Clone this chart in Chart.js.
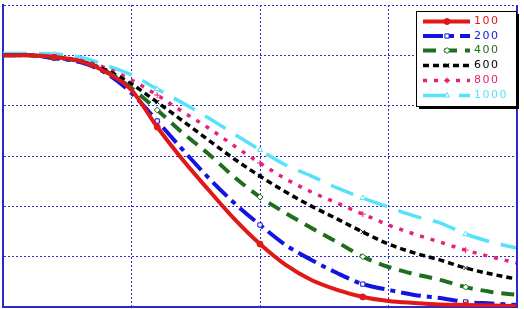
<!DOCTYPE html>
<html>
<head>
<meta charset="UTF-8">
<title>curves</title>
<script src="https://cdn.jsdelivr.net/npm/chart.js"></script>
<style>
  body { margin: 0; background: #fff; }
  #wrap { width: 524px; height: 309px; }
</style>
</head>
<body>
<div id="wrap"><canvas id="chart" width="524" height="309"></canvas></div>
<script>
// x positions (0..4) and the six curves
const xValues = [0, 0.2, 0.4, 0.6, 0.8, 1.0, 1.2, 1.4, 1.6, 1.8, 2.0, 2.2, 2.4, 2.6, 2.8, 3.0, 3.2, 3.4, 3.6, 3.8, 4.0];
const seriesNames = ['100', '200', '400', '600', '800', '1000'];
const s100  = [1.0, 1.0, 0.993, 0.977, 0.934, 0.862, 0.715, 0.584, 0.465, 0.350, 0.250, 0.167, 0.107, 0.068, 0.040, 0.024, 0.016, 0.010, 0.008, 0.006, 0.004];
const s200  = [1.0, 1.0, 0.989, 0.973, 0.930, 0.850, 0.739, 0.624, 0.513, 0.413, 0.326, 0.246, 0.187, 0.135, 0.091, 0.068, 0.048, 0.036, 0.020, 0.014, 0.008];
const s400  = [1.0, 1.0, 0.989, 0.977, 0.938, 0.870, 0.783, 0.691, 0.608, 0.516, 0.437, 0.373, 0.314, 0.258, 0.200, 0.159, 0.131, 0.108, 0.079, 0.060, 0.048];
const s600  = [1.0, 1.0, 0.989, 0.977, 0.942, 0.886, 0.814, 0.739, 0.663, 0.588, 0.520, 0.457, 0.401, 0.350, 0.298, 0.250, 0.215, 0.187, 0.155, 0.131, 0.111];
const s800  = [1.0, 1.0, 0.993, 0.981, 0.950, 0.902, 0.842, 0.775, 0.711, 0.640, 0.572, 0.509, 0.457, 0.413, 0.369, 0.326, 0.290, 0.258, 0.226, 0.199, 0.175];
const s1000 = [1.007, 1.007, 1.005, 0.993, 0.961, 0.922, 0.866, 0.810, 0.751, 0.687, 0.624, 0.564, 0.520, 0.473, 0.433, 0.397, 0.362, 0.334, 0.290, 0.258, 0.234];
const markerIdx = [2, 6, 10, 14, 18];

const gridBlue = '#2a2acc';

function pts(arr) {
  return arr.map((v, i) => ({ x: xValues[i], y: v }));
}
function radii(r) {
  return xValues.map((_, i) => markerIdx.includes(i) ? r : 0);
}

const styles = [
  { color: '#e01818', width: 4,   dash: [],             point: 'circle',   fill: '#e01818' },
  { color: '#1414e0', width: 4,   dash: [20, 6, 5, 6],  point: 'rect',     fill: '#ffffff' },
  { color: '#1e6e1e', width: 4,   dash: [13, 8],        point: 'rectRot',  fill: '#ffffff' },
  { color: '#000000', width: 3.5, dash: [6, 4],         point: 'crossRot', fill: '#ffffff' },
  { color: '#e8207a', width: 3.5, dash: [4, 7],         point: 'cross',    fill: '#ffffff' },
  { color: '#55e2fa', width: 3.5, dash: [24, 12],       point: 'triangle', fill: '#ffffff' }
];
const allData = [s100, s200, s400, s600, s800, s1000];

const datasets = allData.map((arr, k) => ({
  label: seriesNames[k],
  data: pts(arr),
  borderColor: styles[k].color,
  borderWidth: styles[k].width,
  borderDash: styles[k].dash,
  pointStyle: styles[k].point,
  pointRadius: radii(3),
  pointBorderColor: styles[k].color,
  pointBackgroundColor: styles[k].fill,
  pointBorderWidth: 1,
  cubicInterpolationMode: 'monotone',
  fill: false
}));

// boxed legend with line samples, like the original
const legendBox = {
  id: 'legendBox',
  afterDraw(chart) {
    const ctx = chart.ctx;
    const x0 = 416, y0 = 11, w = 100, h = 95;
    ctx.save();
    ctx.fillStyle = '#000';
    ctx.fillRect(x0 + 3, y0 + 3, w, h);
    ctx.fillStyle = '#fff';
    ctx.fillRect(x0, y0, w, h);
    ctx.strokeStyle = '#000';
    ctx.lineWidth = 1;
    ctx.strokeRect(x0 + 0.5, y0 + 0.5, w, h);
    const rows = [21.5, 36, 50.5, 65.5, 80.5, 95.5];
    seriesNames.forEach((name, k) => {
      const st = styles[k];
      const y = rows[k];
      ctx.strokeStyle = st.color;
      ctx.lineWidth = st.width;
      ctx.setLineDash(st.dash);
      ctx.beginPath();
      ctx.moveTo(423, y);
      ctx.lineTo(470, y);
      ctx.stroke();
      ctx.setLineDash([]);
      // marker in the middle
      ctx.lineWidth = 1;
      ctx.strokeStyle = st.color;
      ctx.fillStyle = st.fill;
      Chart.helpers.drawPoint(ctx, { pointStyle: st.point, radius: 3, borderWidth: 1, rotation: 0 }, 447, y);
      ctx.fillStyle = st.color;
      ctx.font = '11px "DejaVu Sans", sans-serif';
      ctx.textBaseline = 'middle';
      let tx = 474;
      for (const ch of name) {
        ctx.fillText(ch, tx, y);
        tx += 8.5;
      }
    });
    ctx.restore();
  }
};

// solid frame on the right side
const rightEdge = {
  id: 'rightEdge',
  afterDatasetsDraw(chart) {
    const a = chart.chartArea, ctx = chart.ctx;
    ctx.save();
    ctx.strokeStyle = gridBlue;
    ctx.lineWidth = 2;
    ctx.beginPath();
    ctx.moveTo(a.right, a.top);
    ctx.lineTo(a.right, a.bottom);
    ctx.stroke();
    ctx.restore();
  }
};

new Chart(document.getElementById('chart').getContext('2d'), {
  type: 'line',
  data: { datasets },
  options: {
    responsive: false,
    animation: false,
    layout: { padding: { left: 3, right: 7, top: 5, bottom: 2 } },
    plugins: { legend: { display: false }, tooltip: { enabled: false } },
    scales: {
      x: {
        type: 'linear', min: 0, max: 4,
        ticks: { display: false, stepSize: 1 },
        grid: { color: gridBlue, lineWidth: 1, drawTicks: false },
        border: { color: gridBlue, width: 2, dash: [2, 2] }
      },
      y: {
        min: 0, max: 1.2,
        ticks: { display: false, stepSize: 0.2 },
        grid: { color: gridBlue, lineWidth: 1, drawTicks: false },
        border: { color: gridBlue, width: 2, dash: [2, 2] }
      }
    }
  },
  plugins: [rightEdge, legendBox]
});
</script>
</body>
</html>
